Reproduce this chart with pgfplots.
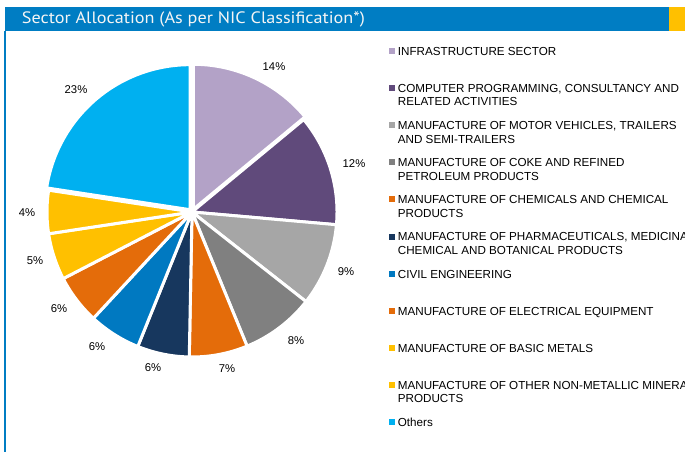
\documentclass[border=0pt]{standalone}
\usepackage{pgfplots}
\pgfplotsset{compat=1.18}
\usepackage{graphicx}
\usepackage{fontspec}
\setmainfont{Liberation Sans}
\newfontfamily\titlefont{PT Sans}

\definecolor{cInfra}{HTML}{B3A2C7}
\definecolor{cComp}{HTML}{604A7B}
\definecolor{cMotor}{HTML}{A6A6A6}
\definecolor{cCoke}{HTML}{808080}
\definecolor{cChem}{HTML}{E46C0A}
\definecolor{cPharma}{HTML}{17375E}
\definecolor{cCivil}{HTML}{0079C1}
\definecolor{cElec}{HTML}{E46C0A}
\definecolor{cBasic}{HTML}{FFC000}
\definecolor{cOther}{HTML}{FFC000}
\definecolor{cOthers}{HTML}{00B0F0}
\definecolor{barblue}{HTML}{007DC3}
\definecolor{baryellow}{HTML}{FFC000}

% legend entry: colour, baseline, first line, second line
\newcommand{\legitem}[4]{%
  \fill[#1] (389.3,#2+1.3) rectangle (395.3,#2+7.3);
  \node[anchor=base west, inner sep=0, font=\fontsize{11.65bp}{13.5bp}\selectfont] at (397.7,#2) {#3};
  \node[anchor=base west, inner sep=0, font=\fontsize{11.65bp}{13.5bp}\selectfont] at (397.7,#2-13.5) {#4};
}

\begin{document}
\begin{tikzpicture}[x=1bp,y=1bp]
\clip (0,0) rectangle (685,452);
\fill[white] (0,0) rectangle (685,452);
\begin{axis}[
    at={(0,0)}, anchor=south west,
    scale only axis, width=685bp, height=452bp,
    xmin=0, xmax=685, ymin=0, ymax=452,
    hide axis, clip=false,
    slice/.style={draw=white, line width=3bp, line join=round, samples=60},
    font=\fontsize{11.3bp}{13.5bp}\selectfont,
]
% title bar
\fill[barblue] (5,421.3) rectangle (669,445);
\fill[baryellow] (669,421.3) rectangle (685,445);
\fill[barblue] (4,0) rectangle (6,421.3);
\node[anchor=base west, inner sep=0, text=white!92!gray] at (21.7,428)
  {\titlefont\fontsize{16.5bp}{18bp}\selectfont\resizebox{343bp}{\height}{Sector Allocation (As per NIC Classification*)}};

% pie slices, domain in cumulative percent (clockwise from 12 o'clock)
\addplot[slice, fill=cInfra, domain=0:14]
  ({193.3+145*sin(3.6*x)}, {242.7+145*cos(3.6*x)}) -- (axis cs:193.3,242.7) -- cycle;
\addplot[slice, fill=cComp, domain=14:26.4]
  ({192+145*sin(3.6*x)}, {240+145*cos(3.6*x)}) -- (axis cs:192,240) -- cycle;
\addplot[slice, fill=cMotor, domain=26.4:35.6]
  ({192+145*sin(3.6*x)}, {240+145*cos(3.6*x)}) -- (axis cs:192,240) -- cycle;
\addplot[slice, fill=cCoke, domain=35.6:43.8]
  ({192+145*sin(3.6*x)}, {240+145*cos(3.6*x)}) -- (axis cs:192,240) -- cycle;
\addplot[slice, fill=cChem, domain=43.8:50.3]
  ({192+145*sin(3.6*x)}, {240+145*cos(3.6*x)}) -- (axis cs:192,240) -- cycle;
\addplot[slice, fill=cPharma, domain=50.3:56.1]
  ({192+145*sin(3.6*x)}, {240+145*cos(3.6*x)}) -- (axis cs:192,240) -- cycle;
\addplot[slice, fill=cCivil, domain=56.1:61.9]
  ({192+145*sin(3.6*x)}, {240+145*cos(3.6*x)}) -- (axis cs:192,240) -- cycle;
\addplot[slice, fill=cElec, domain=61.9:67.4]
  ({192+145*sin(3.6*x)}, {240+145*cos(3.6*x)}) -- (axis cs:192,240) -- cycle;
\addplot[slice, fill=cBasic, domain=67.4:72.6]
  ({192+145*sin(3.6*x)}, {240+145*cos(3.6*x)}) -- (axis cs:192,240) -- cycle;
\addplot[slice, fill=cOther, domain=72.6:77.4]
  ({192+145*sin(3.6*x)}, {240+145*cos(3.6*x)}) -- (axis cs:192,240) -- cycle;
\addplot[slice, fill=cOthers, domain=77.4:100]
  ({190+145*sin(3.6*x)}, {242.3+145*cos(3.6*x)}) -- (axis cs:190,242.3) -- cycle;

% data labels
\node[inner sep=0] at (274,385) {14\%};
\node[inner sep=0] at (354,288) {12\%};
\node[inner sep=0] at (346,180) {9\%};
\node[inner sep=0] at (296,111) {8\%};
\node[inner sep=0] at (227,83) {7\%};
\node[inner sep=0] at (153,84) {6\%};
\node[inner sep=0] at (97,105) {6\%};
\node[inner sep=0] at (59,143) {6\%};
\node[inner sep=0] at (35,191) {5\%};
\node[inner sep=0] at (27,239) {4\%};
\node[inner sep=0] at (76,362) {23\%};

% legend
\legitem{cInfra}{396.7}{INFRASTRUCTURE SECTOR}{}
\legitem{cComp}{359.6}{COMPUTER PROGRAMMING, CONSULTANCY AND}{RELATED ACTIVITIES}
\legitem{cMotor}{322.4}{MANUFACTURE OF MOTOR VEHICLES, TRAILERS}{AND SEMI-TRAILERS}
\legitem{cCoke}{285.3}{MANUFACTURE OF COKE AND REFINED}{PETROLEUM PRODUCTS}
\legitem{cChem}{248.2}{MANUFACTURE OF CHEMICALS AND CHEMICAL}{PRODUCTS}
\legitem{cPharma}{211.0}{MANUFACTURE OF PHARMACEUTICALS, MEDICINAL}{CHEMICAL AND BOTANICAL PRODUCTS}
\legitem{cCivil}{173.9}{CIVIL ENGINEERING}{}
\legitem{cElec}{136.8}{MANUFACTURE OF ELECTRICAL EQUIPMENT}{}
\legitem{cBasic}{99.6}{MANUFACTURE OF BASIC METALS}{}
\legitem{cOther}{62.5}{MANUFACTURE OF OTHER NON-METALLIC MINERAL}{PRODUCTS}
\legitem{cOthers}{25.4}{Others}{}
\end{axis}
\end{tikzpicture}
\end{document}
